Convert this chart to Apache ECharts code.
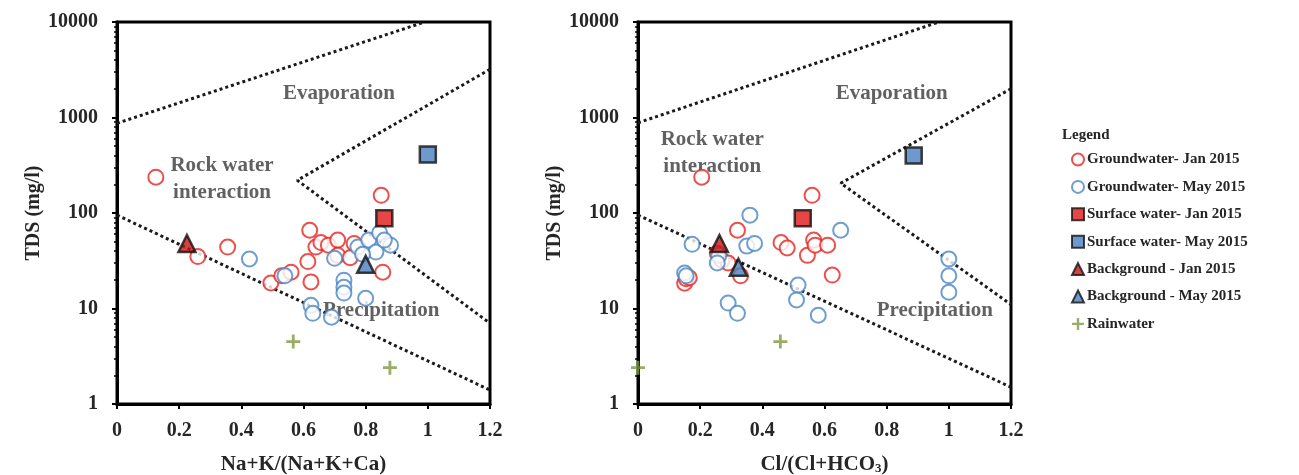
<!DOCTYPE html>
<html><head><meta charset="utf-8">
<script src="https://cdn.jsdelivr.net/npm/echarts@6/dist/echarts.min.js"></script>
<style>html,body{margin:0;padding:0;background:#fff}#c{width:1299px;height:475px}</style>
</head><body><div id="c"></div>
<script>
// ---- data ----
const seriesNames = ['Groundwater- Jan 2015','Groundwater- May 2015','Surface water- Jan 2015','Surface water- May 2015','Background - Jan 2015','Background - May 2015','Rainwater'];
const xTitles = ['Na+K/(Na+K+Ca)', 'Cl/(Cl+HCO{sub|3})'];
const yTitle = 'TDS (mg/l)';

// Left panel: Na+K/(Na+K+Ca) vs TDS
const gwJanL = [[0.125,237],[0.26,35],[0.356,44],[0.495,18.5],[0.53,22],[0.56,24],[0.614,31],[0.62,66],[0.624,19],[0.64,44],[0.656,49],[0.68,46],[0.71,52],[0.71,36],[0.75,34],[0.763,48],[0.85,153],[0.855,24]];
const gwMayL = [[0.426,33],[0.54,22],[0.624,10.8],[0.63,8.9],[0.69,8.1],[0.70,33.5],[0.73,19.8],[0.73,16.7],[0.73,14.5],[0.80,12.8],[0.775,44],[0.81,52],[0.845,62],[0.833,39],[0.88,46],[0.86,52],[0.79,37]];
const swJanL = [[0.86,88]];
const swMayL = [[1.0,410]];
const bgJanL = [[0.225,48]];
const bgMayL = [[0.80,29]];
const rainL = [[0.567,4.5],[0.878,2.4]];
const lineAL = [[0,870],[0.99,10000]];
const lineBCL = [[1.2,3200],[0.58,220],[1.2,7]];
const lineDL = [[0,95],[1.2,1.4]];

// Right panel: Cl/(Cl+HCO3) vs TDS
const gwJanR = [[0.205,237],[0.32,66],[0.15,18.4],[0.155,20.5],[0.165,21],[0.33,22],[0.27,32],[0.29,30],[0.255,38],[0.46,49],[0.48,43],[0.545,36],[0.565,52],[0.57,46],[0.61,46],[0.625,22.4],[0.56,153]];
const gwMayR = [[0.174,47],[0.15,23.5],[0.29,11.4],[0.32,8.9],[0.515,17.6],[0.51,12.3],[0.58,8.5],[0.652,66],[0.36,95],[1.0,33],[1.0,22],[1.0,14.8],[0.26,36],[0.255,30],[0.35,45],[0.375,48],[0.155,22]];
const swJanR = [[0.53,88]];
const swMayR = [[0.887,400]];
const bgJanR = [[0.262,48]];
const bgMayR = [[0.323,27]];
const rainR = [[0,2.4],[0.458,4.5]];
const lineAR = [[0,880],[0.968,10000]];
const lineBCR = [[1.2,2000],[0.652,205],[1.2,11]];
const lineDR = [[0,95],[1.2,1.5]];

// Region labels [x, y, text]
const labelsL = [[0.714,1790,'Evaporation'],[0.338,226,'Rock water\ninteraction'],[0.85,9.4,'Precipitation']];
const labelsR = [[0.816,1790,'Evaporation'],[0.239,423,'Rock water\ninteraction'],[0.955,9.4,'Precipitation']];

// ---- styles ----
const FONT = 'Liberation Serif';
const TXT = '#262626';
const RED = '#e8231f', BLUE = '#4a84c4', GREEN = '#7f9a3f';
const PLUS = 'path://M4,0h2v4h4v2h-4v4h-2v-4h-4v-2h4z';

function markerSeries(idx, L) {
  const d = L ? [gwJanL,gwMayL,swJanL,swMayL,bgJanL,bgMayL,rainL] : [gwJanR,gwMayR,swJanR,swMayR,bgJanR,bgMayR,rainR];
  const styles = [
    {symbol:'emptyCircle', symbolSize:15, itemStyle:{color:RED, borderColor:RED, borderWidth:2.5}},
    {symbol:'emptyCircle', symbolSize:15, itemStyle:{color:BLUE, borderColor:BLUE, borderWidth:2.5}},
    {symbol:'rect', symbolSize:16, itemStyle:{color:'#e01818', borderColor:'#111', borderWidth:2.5}},
    {symbol:'rect', symbolSize:16, itemStyle:{color:'#4a7fc0', borderColor:'#111', borderWidth:2.5}},
    {symbol:'triangle', symbolSize:17, itemStyle:{color:'#c81414', borderColor:'#111', borderWidth:2.5}},
    {symbol:'triangle', symbolSize:17, itemStyle:{color:'#4a7fc0', borderColor:'#111', borderWidth:2.5}},
    {symbol:PLUS, symbolSize:14, itemStyle:{color:GREEN}}
  ];
  return seriesNames.map((n,i)=>Object.assign({
    type:'scatter', name:n, xAxisIndex:idx, yAxisIndex:idx, data:d[i], z:3+i
  }, styles[i]));
}
function lineSeries(idx, arr) {
  return arr.map(a=>({
    type:'line', data:a, xAxisIndex:idx, yAxisIndex:idx, showSymbol:false, symbol:'none',
    lineStyle:{color:'#1a1a1a', width:3, type:[3,3]}, silent:true, z:2
  }));
}
function labelSeries(idx, arr) {
  return {
    type:'scatter', xAxisIndex:idx, yAxisIndex:idx, symbolSize:0, silent:true, z:1,
    data: arr.map(a=>({value:[a[0],a[1]], name:a[2]})),
    label:{show:true, position:'inside', formatter:p=>p.name, fontFamily:FONT, fontWeight:'bold', fontSize:21, lineHeight:27, color:'#3a3a3a'}
  };
}
function xAxis(idx) {
  return {
    type:'value', gridIndex:idx, min:0, max:1.2, interval:0.2,
    name: xTitles[idx], nameLocation:'middle', nameGap:50,
    nameTextStyle:{fontFamily:FONT, fontWeight:'bold', fontSize:21, color:TXT,
      rich:{sub:{fontFamily:FONT, fontWeight:'bold', fontSize:13, color:TXT, verticalAlign:'bottom', lineHeight:14}}},
    axisLine:{show:true, lineStyle:{color:'#000', width:3}},
    axisTick:{show:true, inside:false, length:5, lineStyle:{color:'#000', width:2}},
    axisLabel:{fontFamily:FONT, fontWeight:'bold', fontSize:20, color:TXT, margin:17},
    splitLine:{show:false}
  };
}
function yAxis(idx) {
  return {
    type:'log', logBase:10, gridIndex:idx, min:1, max:10000,
    name:yTitle, nameLocation:'middle', nameGap:72, nameRotate:90,
    nameTextStyle:{fontFamily:FONT, fontWeight:'bold', fontSize:20, color:TXT},
    axisLine:{show:true, lineStyle:{color:'#000', width:3}},
    axisTick:{show:true, inside:false, length:5, lineStyle:{color:'#000', width:2}},
    minorTick:{show:true, splitNumber:9, length:3, lineStyle:{color:'#000', width:1.5}},
    axisLabel:{fontFamily:FONT, fontWeight:'bold', fontSize:20, color:TXT, margin:19, formatter:v=>String(v)},
    splitLine:{show:false}, minorSplitLine:{show:false}
  };
}

const chart = echarts.init(document.getElementById('c'), null, {renderer:'canvas'});
chart.setOption({
  animation:false,
  backgroundColor:'#fff',
  grid:[
    {left:117, top:22, width:373, height:382, show:true, borderColor:'#000', borderWidth:3, outerBoundsMode:'none', containLabel:false},
    {left:638, top:22, width:373, height:382, show:true, borderColor:'#000', borderWidth:3, outerBoundsMode:'none', containLabel:false}
  ],
  xAxis:[xAxis(0), xAxis(1)],
  yAxis:[yAxis(0), yAxis(1)],
  title:{text:'Legend', left:1062, top:128, padding:0, textStyle:{fontFamily:FONT, fontWeight:'bold', fontSize:15, color:TXT}},
  legend:{
    orient:'vertical', left:1066, top:147, itemWidth:12, itemHeight:12, itemGap:12.4,
    data:seriesNames, selectedMode:false,
    textStyle:{fontFamily:FONT, fontWeight:'bold', fontSize:15, color:TXT, padding:[0,0,0,-2]}
  },
  series:[].concat(
    lineSeries(0,[lineAL,lineBCL,lineDL]), lineSeries(1,[lineAR,lineBCR,lineDR]),
    [labelSeries(0,labelsL), labelSeries(1,labelsR)],
    markerSeries(0,true), markerSeries(1,false)
  )
});
</script></body></html>
